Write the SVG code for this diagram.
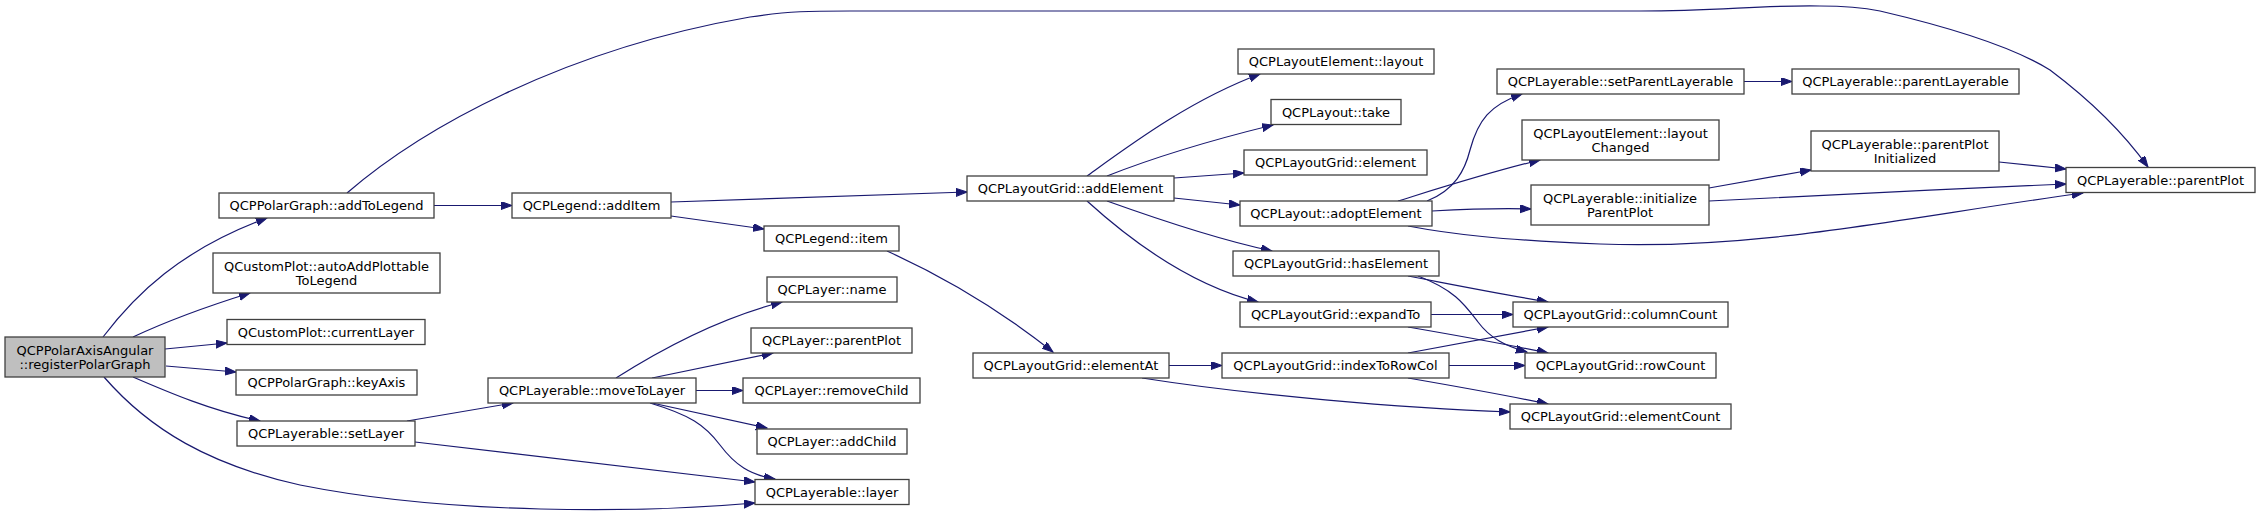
<svg xmlns="http://www.w3.org/2000/svg" width="2260" height="519" viewBox="0 0 2260 519">
<style>
.n rect{fill:#ffffff;stroke:#404040;stroke-width:1.3}
.n.root rect{fill:#bfbfbf}
.n text{font-family:"DejaVu Sans",sans-serif;font-size:13px;fill:#000000;text-anchor:middle}
.e path{fill:none;stroke:#191970;stroke-width:1.2;marker-end:url(#ah)}
</style>
<defs>
<marker id="ah" markerUnits="userSpaceOnUse" markerWidth="12" markerHeight="9" refX="11" refY="4" orient="auto">
<path d="M0,0 L11,4 L0,8 z" fill="#191970" stroke="#191970" stroke-width="1"/>
</marker>
</defs>
<rect width="2260" height="519" fill="#ffffff"/>
<g id="edges" class="e">
<path d="M103,337 C135,295 180,250 267,218"/>
<path d="M133,337 C165,322 205,307 250,293"/>
<path d="M165,349 L227,343"/>
<path d="M166,366 L236,372"/>
<path d="M133,377 C170,393 210,410 260,421"/>
<path d="M104,377 C150,430 210,465 300,485 C450,515 640,513 755,503"/>
<path d="M434,205.5 L512,205.5"/>
<path d="M347,193 C420,130 560,50 750,17 C790,11 810,11 850,11 L1640,11 C1720,11 1760,5 1820,6 C1850,6 1865,8 1880,11 C1940,25 2010,45 2050,70 C2090,100 2125,135 2148,167"/>
<path d="M671,202 L967,192"/>
<path d="M671,216 L764,229"/>
<path d="M887,251 C940,275 1000,310 1053,352"/>
<path d="M1087,176 C1130,145 1190,100 1260,74"/>
<path d="M1107,176 C1160,155 1220,138 1273,125"/>
<path d="M1174,178 L1244,173"/>
<path d="M1174,198 L1240,205"/>
<path d="M1107,201 C1160,220 1220,240 1272,251"/>
<path d="M1087,201 C1130,240 1190,285 1258,302"/>
<path d="M1427,201 C1455,190 1465,170 1470,150 C1478,120 1490,105 1522,94"/>
<path d="M1398,201 C1440,188 1490,172 1540,160"/>
<path d="M1432,211 C1470,209 1500,208 1531,209"/>
<path d="M1408,226 C1450,234 1500,240 1600,244 C1760,250 1900,218 2083,193"/>
<path d="M1744,81.5 L1792,81.5"/>
<path d="M1709,188 L1811,170"/>
<path d="M1709,201 C1800,196 1950,189 2066,184"/>
<path d="M1999,162 L2066,169"/>
<path d="M1408,276 C1450,284 1500,294 1548,302"/>
<path d="M1418,276 C1455,290 1465,305 1478,322 C1490,338 1505,346 1527,352"/>
<path d="M1408,327 C1460,336 1510,345 1548,353"/>
<path d="M1431,314.5 L1513,314.5"/>
<path d="M1408,353 C1460,343 1510,334 1548,327"/>
<path d="M1449,365.5 L1525,365.5"/>
<path d="M1408,378 C1460,387 1510,396 1548,404"/>
<path d="M1169,365.5 L1222,365.5"/>
<path d="M1142,378 C1250,395 1400,408 1510,412"/>
<path d="M407,421 L513,403"/>
<path d="M415,442 L755,482"/>
<path d="M616,378 C660,350 720,318 782,302"/>
<path d="M652,378 L773,353"/>
<path d="M696,390.5 L743,390.5"/>
<path d="M652,403 L767,428"/>
<path d="M650,403 C690,415 705,425 720,445 C735,465 750,475 775,479"/>
</g>
<g id="n0" class="n root"><rect x="5" y="337" width="160" height="40"/><text x="85" y="354.5">QCPPolarAxisAngular</text><text x="85" y="368.5">::registerPolarGraph</text></g>
<g id="n1" class="n"><rect x="219" y="193" width="215" height="25"/><text x="326.5" y="210">QCPPolarGraph::addToLegend</text></g>
<g id="n2" class="n"><rect x="213" y="253" width="227" height="40"/><text x="326.5" y="270.5">QCustomPlot::autoAddPlottable</text><text x="326.5" y="284.5">ToLegend</text></g>
<g id="n3" class="n"><rect x="227" y="319.5" width="198" height="25"/><text x="326" y="336.5">QCustomPlot::currentLayer</text></g>
<g id="n4" class="n"><rect x="236" y="370" width="181" height="25"/><text x="326.5" y="387">QCPPolarGraph::keyAxis</text></g>
<g id="n5" class="n"><rect x="237" y="421" width="178" height="25"/><text x="326" y="438">QCPLayerable::setLayer</text></g>
<g id="n6" class="n"><rect x="512" y="193" width="159" height="25"/><text x="591.5" y="210">QCPLegend::addItem</text></g>
<g id="n7" class="n"><rect x="488" y="378" width="208" height="25"/><text x="592" y="395">QCPLayerable::moveToLayer</text></g>
<g id="n8" class="n"><rect x="967" y="176" width="207" height="25"/><text x="1070.5" y="193">QCPLayoutGrid::addElement</text></g>
<g id="n9" class="n"><rect x="764" y="226" width="135" height="25"/><text x="831.5" y="243">QCPLegend::item</text></g>
<g id="n10" class="n"><rect x="767" y="277" width="130" height="25"/><text x="832" y="294">QCPLayer::name</text></g>
<g id="n11" class="n"><rect x="751" y="328" width="161" height="25"/><text x="831.5" y="345">QCPLayer::parentPlot</text></g>
<g id="n12" class="n"><rect x="743" y="378" width="177" height="25"/><text x="831.5" y="395">QCPLayer::removeChild</text></g>
<g id="n13" class="n"><rect x="757" y="429" width="150" height="25"/><text x="832" y="446">QCPLayer::addChild</text></g>
<g id="n14" class="n"><rect x="755" y="479.5" width="154" height="25"/><text x="832" y="496.5">QCPLayerable::layer</text></g>
<g id="n15" class="n"><rect x="973" y="353" width="196" height="25"/><text x="1071" y="370">QCPLayoutGrid::elementAt</text></g>
<g id="n16" class="n"><rect x="1238" y="49" width="196" height="25"/><text x="1336" y="66">QCPLayoutElement::layout</text></g>
<g id="n17" class="n"><rect x="1271" y="99.5" width="130" height="25"/><text x="1336" y="116.5">QCPLayout::take</text></g>
<g id="n18" class="n"><rect x="1244" y="150" width="183" height="25"/><text x="1335.5" y="167">QCPLayoutGrid::element</text></g>
<g id="n19" class="n"><rect x="1240" y="201" width="192" height="25"/><text x="1336" y="218">QCPLayout::adoptElement</text></g>
<g id="n20" class="n"><rect x="1233" y="251" width="206" height="25"/><text x="1336" y="268">QCPLayoutGrid::hasElement</text></g>
<g id="n21" class="n"><rect x="1240" y="302" width="191" height="25"/><text x="1335.5" y="319">QCPLayoutGrid::expandTo</text></g>
<g id="n22" class="n"><rect x="1222" y="353" width="227" height="25"/><text x="1335.5" y="370">QCPLayoutGrid::indexToRowCol</text></g>
<g id="n23" class="n"><rect x="1497" y="69" width="247" height="25"/><text x="1620.5" y="86">QCPLayerable::setParentLayerable</text></g>
<g id="n24" class="n"><rect x="1792" y="69" width="227" height="25"/><text x="1905.5" y="86">QCPLayerable::parentLayerable</text></g>
<g id="n25" class="n"><rect x="1522" y="120" width="197" height="40"/><text x="1620.5" y="137.5">QCPLayoutElement::layout</text><text x="1620.5" y="151.5">Changed</text></g>
<g id="n26" class="n"><rect x="1531" y="185" width="178" height="40"/><text x="1620" y="202.5">QCPLayerable::initialize</text><text x="1620" y="216.5">ParentPlot</text></g>
<g id="n27" class="n"><rect x="1811" y="131" width="188" height="40"/><text x="1905" y="148.5">QCPLayerable::parentPlot</text><text x="1905" y="162.5">Initialized</text></g>
<g id="n28" class="n"><rect x="2066" y="167.5" width="189" height="25"/><text x="2160.5" y="184.5">QCPLayerable::parentPlot</text></g>
<g id="n29" class="n"><rect x="1513" y="302" width="215" height="25"/><text x="1620.5" y="319">QCPLayoutGrid::columnCount</text></g>
<g id="n30" class="n"><rect x="1525" y="353" width="191" height="25"/><text x="1620.5" y="370">QCPLayoutGrid::rowCount</text></g>
<g id="n31" class="n"><rect x="1510" y="404" width="221" height="25"/><text x="1620.5" y="421">QCPLayoutGrid::elementCount</text></g>
</svg>
